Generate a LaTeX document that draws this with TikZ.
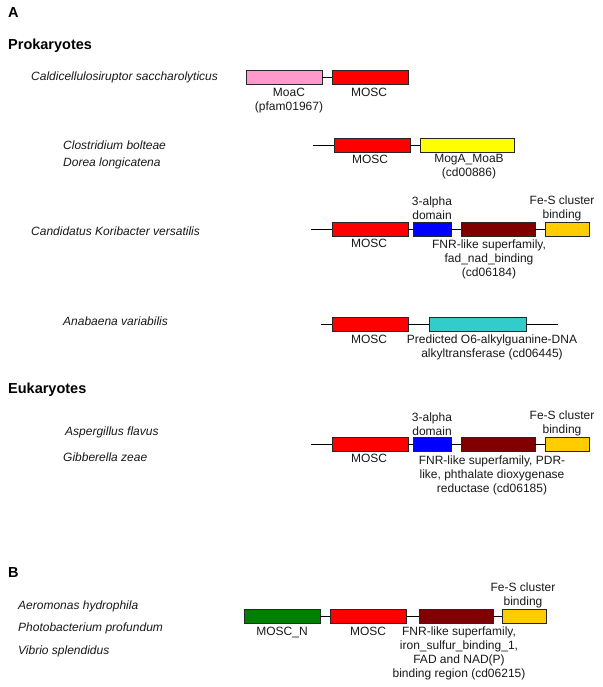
\documentclass[tikz,border=0pt]{standalone}
\usepackage{fontspec}
\setmainfont{Liberation Sans}
\newcommand\lblfont{\fontsize{12}{14}\selectfont}
\newcommand\hdrfont{\fontsize{14.5}{17}\selectfont\bfseries}
\newcommand\spfont{\fontsize{12}{14}\selectfont\itshape}
\definecolor{mpink}{RGB}{255,153,204}
\definecolor{mred}{RGB}{255,0,0}
\definecolor{myellow}{RGB}{255,255,0}
\definecolor{mblue}{RGB}{0,0,255}
\definecolor{mdred}{RGB}{128,0,0}
\definecolor{mgold}{RGB}{255,204,0}
\definecolor{mcyan}{RGB}{51,204,204}
\definecolor{mgreen}{RGB}{0,128,0}
\definecolor{txt}{RGB}{25,25,25}
\begin{document}
\begin{tikzpicture}[x=1pt,y=-1pt,
  dom/.style={draw=black!85, line width=0.7pt, minimum height=14pt, minimum width=#1, inner sep=0pt, outer sep=0pt, anchor=west},
  lnk/.style={draw=black, line width=0.8pt},
  lab/.style={font=\lblfont, text=txt, align=center, inner sep=0pt, anchor=north},
  hdr/.style={font=\hdrfont, text=black, inner sep=0pt, anchor=west},
  sp/.style={font=\spfont, text=txt, inner sep=0pt, anchor=west}]
\useasboundingbox[fill=white] (0,0) rectangle (602,687);

% headers
\node[hdr] (hA) at (8,13) {A};
\node[hdr] (hP) at (8,46) {Prokaryotes};
\node[hdr] (hE) at (8,390) {Eukaryotes};
\node[hdr] (hB) at (8,573) {B};

% species
\node[sp] (s1) at (31,77) {Caldicellulosiruptor saccharolyticus};
\node[sp] (s2) at (63,145) {Clostridium bolteae};
\node[sp] (s3) at (63,163) {Dorea longicatena};
\node[sp] (s4) at (31,231) {Candidatus Koribacter versatilis};
\node[sp] (s5) at (63,321) {Anabaena variabilis};
\node[sp] (s6) at (65,432) {Aspergillus flavus};
\node[sp] (s7) at (63,457) {Gibberella zeae};
\node[sp] (s8) at (18,606) {Aeromonas hydrophila};
\node[sp] (s9) at (18,628) {Photobacterium profundum};
\node[sp] (s10) at (18,651) {Vibrio splendidus};

% row 1
\node[dom=76pt, fill=mpink] (a1) at (246,77) {};
\node[dom=76pt, fill=mred] (a2) at (332,77) {};
\draw[lnk] (a1.east) -- (a2.west);
\node[lab] (la1) at (289,87.5) {MoaC\\(pfam01967)};
\node[lab] (la2) at (369,87.5) {MOSC};

% row 2
\coordinate (b0) at (313,145);
\node[dom=76pt, fill=mred] (b1) at (334,145) {};
\node[dom=94pt, fill=myellow] (b2) at (420,145) {};
\draw[lnk] (b0) -- (b1.west);
\draw[lnk] (b1.east) -- (b2.west);
\node[lab] (lb1) at (370,154.5) {MOSC};
\node[lab] (lb2) at (469,154.5) {MogA\_MoaB\\(cd00886)};

% row 3
\coordinate (c0) at (311,229);
\node[dom=76pt, fill=mred] (c1) at (332,229) {};
\node[dom=38pt, fill=mblue] (c2) at (413,229) {};
\node[dom=74pt, fill=mdred] (c3) at (461,229) {};
\node[dom=44pt, fill=mgold] (c4) at (545,229) {};
\draw[lnk] (c0) -- (c1.west);
\draw[lnk] (c1.east) -- (c2.west);
\draw[lnk] (c2.east) -- (c3.west);
\draw[lnk] (c3.east) -- (c4.west);
\node[lab] (lc0) at (432,196.5) {3-alpha\\domain};
\node[lab] (lc5) at (562,195.5) {Fe-S cluster\\binding};
\node[lab] (lc1) at (369,238.5) {MOSC};
\node[lab] (lc3) at (489,239.5) {FNR-like superfamily,\\fad\_nad\_binding\\(cd06184)};

% row 4
\coordinate (d0) at (321,324);
\node[dom=76pt, fill=mred] (d1) at (332,324) {};
\node[dom=97pt, fill=mcyan] (d2) at (429,324) {};
\coordinate (d3) at (558,324);
\draw[lnk] (d0) -- (d1.west);
\draw[lnk] (d1.east) -- (d2.west);
\draw[lnk] (d2.east) -- (d3);
\node[lab] (ld1) at (369,334.5) {MOSC};
\node[lab] (ld2) at (492,334.5) {Predicted O6-alkylguanine-DNA\\alkyltransferase (cd06445)};

% row 5
\coordinate (e0) at (311,444);
\node[dom=76pt, fill=mred] (e1) at (332,444) {};
\node[dom=38pt, fill=mblue] (e2) at (413,444) {};
\node[dom=74pt, fill=mdred] (e3) at (461,444) {};
\node[dom=44pt, fill=mgold] (e4) at (545,444) {};
\draw[lnk] (e0) -- (e1.west);
\draw[lnk] (e1.east) -- (e2.west);
\draw[lnk] (e2.east) -- (e3.west);
\draw[lnk] (e3.east) -- (e4.west);
\node[lab] (le0) at (432,412.5) {3-alpha\\domain};
\node[lab] (le5) at (562,410.5) {Fe-S cluster\\binding};
\node[lab] (le1) at (369,453.5) {MOSC};
\node[lab] (le3) at (492,455.5) {FNR-like superfamily, PDR-\\like, phthalate dioxygenase\\reductase (cd06185)};

% row B
\node[dom=76pt, fill=mgreen] (f1) at (244,616) {};
\node[dom=76pt, fill=mred] (f2) at (330,616) {};
\node[dom=74pt, fill=mdred] (f3) at (419,616) {};
\node[dom=44pt, fill=mgold] (f4) at (502,616) {};
\draw[lnk] (f1.east) -- (f2.west);
\draw[lnk] (f2.east) -- (f3.west);
\draw[lnk] (f3.east) -- (f4.west);
\node[lab] (lf5) at (523,582.5) {Fe-S cluster\\binding};
\node[lab] (lf1) at (282,626.5) {MOSC\_N};
\node[lab] (lf2) at (368,626.5) {MOSC};
\node[lab] (lf3) at (459,626.5) {FNR-like superfamily,\\iron\_sulfur\_binding\_1,\\FAD and NAD(P)\\binding region (cd06215)};
\end{tikzpicture}
\end{document}
